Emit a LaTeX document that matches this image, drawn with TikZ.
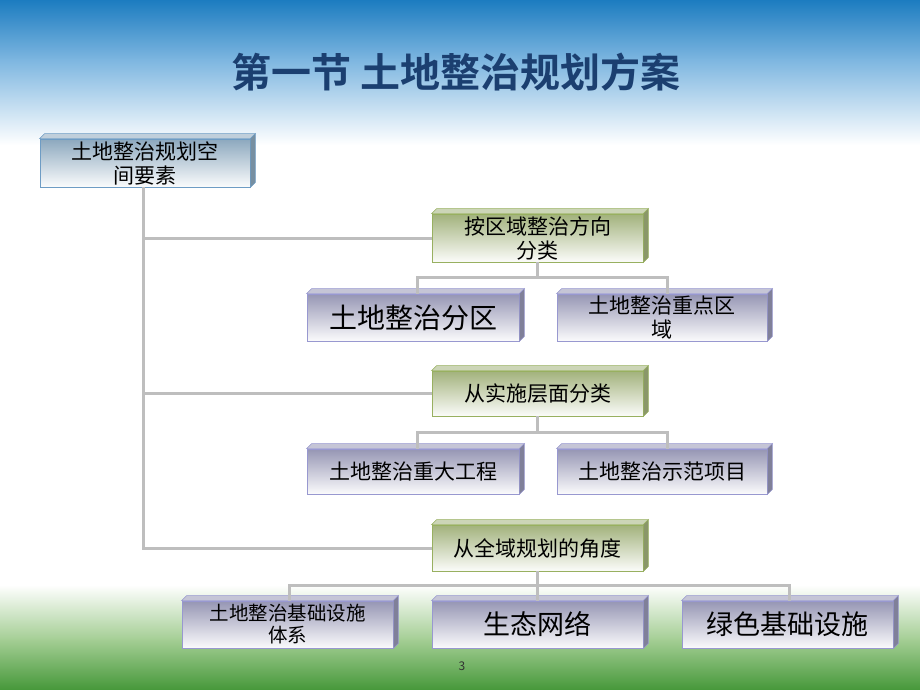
\documentclass[tikz,border=0pt]{standalone}
\usepackage{fontspec}
\setmainfont{Noto Sans CJK SC}
\newfontfamily\cjkb{Noto Sans CJK SC Bold}
\usetikzlibrary{positioning}
\definecolor{skytop}{HTML}{1C7CC0}
\definecolor{skymid}{HTML}{7DB6E0}
\definecolor{grassbot}{HTML}{46983A}
\definecolor{grassmid}{HTML}{A4CE94}
\definecolor{titlecol}{HTML}{1B3F70}
\definecolor{linecol}{HTML}{BEBEBE}
\definecolor{bluetop}{HTML}{8CA8BE}
\definecolor{blueedge}{HTML}{6E9CC4}
\definecolor{greentop}{HTML}{A2B27C}
\definecolor{greenedge}{HTML}{98B060}
\definecolor{purptop}{HTML}{9696B4}
\definecolor{purpedge}{HTML}{9898D0}
\tikzset{
  frontbox/.style={draw=#1edge, line width=0.8pt, top color=#1top, bottom color=white!96!#1top,
    inner sep=1pt, align=center, text=black, font=\fontsize{21}{24}\selectfont},
  conn/.style={draw=linecol, line width=3pt},
}
% bevel drawer: node name, color prefix
\newcommand\bevel[2]{%
  \fill[#2top!55!white, draw=#2edge, line width=0.6pt] (#1.north west) -- ++(5,-5) -- ([xshift=5pt,yshift=5pt]#1.north east) -- (#1.north east) -- cycle;
  \fill[#2top!85!black, draw=#2edge, line width=0.6pt] (#1.north east) -- ++(5,-5) -- ([xshift=5pt,yshift=5pt]#1.south east) -- (#1.south east) -- cycle;
}
\begin{document}
\begin{tikzpicture}[x=1pt,y=-1pt]
\useasboundingbox (0,0) rectangle (920,690);
% background
\fill[white] (0,0) rectangle (920,690);
\shade[top color=skytop, bottom color=skymid] (0,0) rectangle (920,60);
\shade[top color=skymid, bottom color=white] (0,59.5) rectangle (920,145);
\shade[top color=white, bottom color=grassmid] (0,585) rectangle (920,640);
\shade[top color=grassmid, bottom color=grassbot] (0,639.5) rectangle (920,690);
% title
\node[font=\cjkb\fontsize{40}{44}\selectfont, text=titlecol] (title) at (456,72) {第一节 土地整治规划方案};
% boxes
\node[frontbox=blue, minimum width=210pt, minimum height=48pt, text width=200pt] (b1) at (145,163) {土地整治规划空\\间要素};
\node[frontbox=green, minimum width=211pt, minimum height=48pt, text width=200pt] (b2) at (537.5,238) {按区域整治方向\\分类};
\node[frontbox=purp, minimum width=212pt, minimum height=47pt, text width=200pt, font=\fontsize{28}{31}\selectfont] (b3) at (413,317.5) {土地整治分区};
\node[frontbox=purp, minimum width=210pt, minimum height=47pt, text width=200pt] (b4) at (662,317.5) {土地整治重点区\\域};
\node[frontbox=green, minimum width=211pt, minimum height=45pt, text width=200pt] (b5) at (537.5,393.5) {从实施层面分类};
\node[frontbox=purp, minimum width=212pt, minimum height=45pt, text width=200pt] (b6) at (413,471.5) {土地整治重大工程};
\node[frontbox=purp, minimum width=210pt, minimum height=45pt, text width=200pt] (b7) at (662,471.5) {土地整治示范项目};
\node[frontbox=green, minimum width=211pt, minimum height=46pt, text width=200pt] (b8) at (537.5,548) {从全域规划的角度};
\node[frontbox=purp, minimum width=211pt, minimum height=47pt, text width=205pt, font=\fontsize{19.5}{22}\selectfont] (b9) at (287.5,624.5) {土地整治基础设施\\体系};
\node[frontbox=purp, minimum width=211pt, minimum height=47pt, text width=200pt, font=\fontsize{27}{30}\selectfont] (b10) at (537.5,624.5) {生态网络};
\node[frontbox=purp, minimum width=211pt, minimum height=47pt, text width=200pt, font=\fontsize{27}{30}\selectfont] (b11) at (787.5,624.5) {绿色基础设施};
\bevel{b1}{blue}
\bevel{b2}{green}\bevel{b5}{green}\bevel{b8}{green}
\bevel{b3}{purp}\bevel{b4}{purp}\bevel{b6}{purp}\bevel{b7}{purp}
\bevel{b9}{purp}\bevel{b10}{purp}\bevel{b11}{purp}
% connectors
\path (b2.south) ++(0,15) coordinate (j1);
\path (b5.south) ++(0,16) coordinate (j2);
\path (b8.south) ++(0,14) coordinate (j3);
\draw[conn] ([xshift=-2pt]b1.south) |- (b2.west);
\draw[conn] ([xshift=-2pt]b1.south) |- (b5.west);
\draw[conn] ([xshift=-2pt]b1.south) |- (b8.west);
\draw[conn] (b2.south) -- (j1);
\draw[conn] ([xshift=4pt]b3.north) |- (j1) -| ([xshift=5pt]b4.north);
\draw[conn] (b5.south) -- (j2);
\draw[conn] ([xshift=4pt]b6.north) |- (j2) -| ([xshift=5pt]b7.north);
\draw[conn] (b8.south) -- (j3);
\draw[conn] ([xshift=2pt]b9.north) |- (j3) -| ([xshift=2pt]b11.north);
\draw[conn] (j3) -- (b10.north);
% page number
\node[font=\fontsize{12}{14}\selectfont, text=black!80] (pg) at (462,666) {3};
\end{tikzpicture}
\end{document}
